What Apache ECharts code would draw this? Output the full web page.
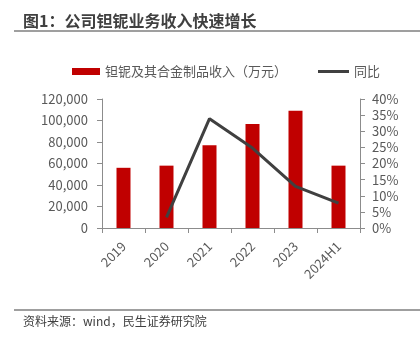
<!DOCTYPE html>
<html><head><meta charset="utf-8">
<script src="https://cdn.jsdelivr.net/npm/echarts@6/dist/echarts.min.js"></script>
<style>html,body{margin:0;padding:0;background:#fff}#c{width:420px;height:342px}</style>
</head><body><div id="c"></div>
<script>
const categories = ['2019','2020','2021','2022','2023','2024H1'];
const revenue = [56000, 58000, 77000, 96800, 109000, 58000];
const yoy = [null, 3.3, 33.9, 24.8, 12.9, 7.7];
const leftTicks = {min:0, max:120000, interval:20000};
const rightTicks = {min:0, max:40, interval:5};
const FONT = '"Noto Sans CJK SC","Noto Sans",sans-serif';
const chart = echarts.init(document.getElementById('c'), null, {renderer:'canvas'});
const axisColor = '#8c8c8c', labelColor = '#595959';
chart.setOption({
  animation:false,
  textStyle:{fontFamily:FONT},
  graphic:[
    {type:'text', left:23, top:13, style:{text:'图1：公司钽铌业务收入快速增长', font:'bold 16px '+FONT, fill:'#404040'}},
    {type:'line', shape:{x1:14,y1:31,x2:420,y2:31}, style:{stroke:'#7f7f7f', lineWidth:1.5}},
    {type:'line', shape:{x1:14,y1:310,x2:420,y2:310}, style:{stroke:'#7f7f7f', lineWidth:1.5}},
    {type:'text', left:23, top:315, style:{text:'资料来源：wind，民生证券研究院', font:'12px '+FONT, fill:'#404040'}}
  ],
  legend:[
    {data:[{name:'钽铌及其合金制品收入（万元）', icon:'rect'}], left:67, top:60, itemWidth:28, itemHeight:7, itemGap:4,
     textStyle:{fontSize:13, color:labelColor, fontFamily:FONT}},
    {data:[{name:'同比', icon:'rect'}], left:313, top:60, itemWidth:31, itemHeight:3, itemGap:4,
     textStyle:{fontSize:13, color:labelColor, fontFamily:FONT}}
  ],
  grid:{left:102, right:60, top:99, bottom:114},
  xAxis:{type:'category', data:categories,
    axisLine:{lineStyle:{color:axisColor}},
    axisTick:{show:true, length:5, lineStyle:{color:axisColor}},
    axisLabel:{rotate:45, color:labelColor, fontSize:13, margin:16, fontFamily:FONT}},
  yAxis:[
    {type:'value', min:leftTicks.min, max:leftTicks.max, interval:leftTicks.interval,
     axisLine:{show:true, lineStyle:{color:axisColor}}, axisTick:{show:true, length:5, lineStyle:{color:axisColor}},
     splitLine:{show:false},
     axisLabel:{color:labelColor, fontSize:13, margin:14, fontFamily:FONT,
       formatter:v=>v.toLocaleString('en-US')}},
    {type:'value', min:rightTicks.min, max:rightTicks.max, interval:rightTicks.interval, position:'right',
     axisLine:{show:true, lineStyle:{color:axisColor}}, axisTick:{show:true, length:5, lineStyle:{color:axisColor}},
     splitLine:{show:false},
     axisLabel:{color:labelColor, fontSize:13, margin:12, fontFamily:FONT, formatter:v=>v+'%'}}
  ],
  series:[
    {name:'钽铌及其合金制品收入（万元）', type:'bar', data:revenue, barWidth:14, itemStyle:{color:'#C00000'}},
    {name:'同比', type:'line', yAxisIndex:1, data:yoy, symbol:'none', connectNulls:false,
     lineStyle:{color:'#404040', width:3}, itemStyle:{color:'#404040'}}
  ]
});
</script></body></html>
